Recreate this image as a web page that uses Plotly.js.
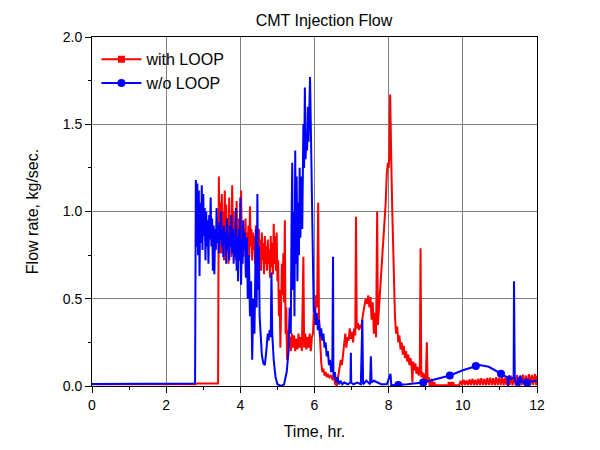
<!DOCTYPE html>
<html>
<head>
<meta charset="utf-8">
<script src="https://cdn.plot.ly/plotly-3.0.1.min.js"></script>
<style>html,body{margin:0;padding:0;background:#fff;}#chart{width:600px;height:450px;}</style>
</head>
<body>
<div id="chart"></div>
<script>
// ---- with LOOP (red) ----
const redT = [0, 2.80, 2.82, 3.40, 3.41, 3.42, 3.44, 3.46, 3.48, 3.50, 3.52, 3.54, 3.56, 3.58, 3.60, 3.62, 3.64, 3.66, 3.68, 3.70,
  3.72, 3.74, 3.76, 3.78, 3.80, 3.82, 3.84, 3.86, 3.88, 3.90, 3.92, 3.94, 3.96, 3.98, 4.00, 4.02, 4.04, 4.06, 4.08, 4.10,
  4.12, 4.14, 4.16, 4.18, 4.20, 4.22, 4.24, 4.26, 4.28, 4.30, 4.32, 4.34, 4.36, 4.38, 4.40, 4.42, 4.44, 4.46, 4.48, 4.50,
  4.52, 4.54, 4.56, 4.58, 4.60, 4.62, 4.64, 4.66, 4.68, 4.70, 4.72, 4.74, 4.76, 4.78, 4.80, 4.82, 4.84, 4.86, 4.88, 4.90,
  4.92, 4.94, 4.96, 4.98, 5.00, 5.02, 5.04, 5.06, 5.08, 5.10, 5.12, 5.14, 5.16, 5.18, 5.20, 5.22, 5.24, 5.26, 5.28, 5.30,
  5.33, 5.36, 5.39, 5.42, 5.45, 5.48, 5.51, 5.54, 5.57, 5.60, 5.63, 5.66, 5.70, 5.72, 5.75, 5.78, 5.81, 5.84, 5.87, 5.90,
  5.93, 5.96, 5.98, 6.01, 6.04, 6.07, 6.10, 6.12, 6.15, 6.18, 6.21, 6.24, 6.27, 6.30, 6.33, 6.36, 6.40, 6.44, 6.48, 6.52,
  6.56, 6.60, 6.62, 6.65, 6.68, 6.71, 6.74, 6.77, 6.80, 6.83, 6.86, 6.89, 6.92, 6.95, 6.98, 7.01, 7.04, 7.07, 7.10, 7.12,
  7.14, 7.17, 7.20, 7.23, 7.26, 7.30, 7.34, 7.38, 7.42, 7.45, 7.48, 7.51, 7.54, 7.57, 7.60, 7.63, 7.66, 7.69, 7.71, 7.74,
  7.77, 7.80, 7.84, 7.88, 7.92, 7.95, 7.98, 8.00, 8.02, 8.04, 8.06, 8.08, 8.10, 8.12, 8.14, 8.17, 8.20, 8.23, 8.26, 8.29,
  8.32, 8.35, 8.38, 8.41, 8.44, 8.47, 8.50, 8.53, 8.56, 8.59, 8.62, 8.64, 8.66, 8.69, 8.72, 8.75, 8.78, 8.81, 8.84, 8.86,
  8.88, 8.91, 8.94, 8.97, 9.00, 9.03, 9.05, 9.08, 9.11, 9.15, 9.20, 9.90,
  9.94, 9.98, 10.02, 10.06, 10.10, 10.14, 10.18, 10.22, 10.26, 10.30, 10.34, 10.38, 10.42, 10.46, 10.50, 10.54, 10.58,
  10.62, 10.66, 10.70, 10.74, 10.78, 10.82, 10.86, 10.90, 10.94, 10.98, 11.02, 11.06, 11.10, 11.14, 11.18, 11.22, 11.26,
  11.30, 11.34, 11.38, 11.42, 11.46, 11.50, 11.54, 11.58, 11.62, 11.66, 11.70, 11.74, 11.78, 11.82, 11.86, 11.90, 11.94,
  11.98, 12.00];
const redV = [0.010, 0.010, 0.015, 0.015, 0.60, 1.20, 0.82, 1.05, 0.76, 1.10, 0.84, 1.00, 0.72, 1.12, 0.86, 1.04, 0.78, 0.96, 0.70, 1.08,
  0.82, 0.98, 0.74, 1.15, 0.84, 1.00, 0.78, 0.94, 0.72, 1.06, 0.84, 0.96, 0.76, 0.92, 0.80, 1.12, 0.82, 0.94, 0.74, 0.90,
  0.80, 0.96, 0.76, 0.88, 0.78, 0.92, 0.74, 1.03, 0.80, 0.90, 0.72, 0.88, 0.78, 0.86, 0.70, 0.92, 0.76, 0.86, 0.68, 0.90,
  0.74, 0.84, 0.66, 0.88, 0.72, 0.82, 0.64, 0.86, 0.70, 0.80, 0.66, 0.84, 0.70, 0.78, 0.62, 0.86, 0.68, 0.82, 0.64, 0.93,
  0.70, 0.86, 0.66, 0.88, 0.60, 0.72, 0.40, 0.55, 0.22, 0.45, 0.70, 0.52, 0.76, 0.48, 0.95, 0.30, 0.45, 0.15, 0.32, 0.22,
  0.28, 0.20, 0.30, 0.22, 0.29, 0.20, 0.27, 0.21, 0.30, 0.22, 0.28, 0.20, 0.74, 0.22, 0.30, 0.21, 0.28, 0.22, 0.30, 0.20,
  0.28, 0.30, 0.42, 0.35, 0.52, 0.45, 1.05, 0.40, 0.22, 0.14, 0.08, 0.10, 0.06, 0.08, 0.05, 0.07, 0.05, 0.06, 0.04, 0.05,
  0.01, 0.005, 0.03, 0.08, 0.13, 0.15, 0.12, 0.20, 0.24, 0.30, 0.22, 0.28, 0.26, 0.33, 0.27, 0.31, 0.25, 0.33, 0.29, 0.97,
  0.33, 0.36, 0.32, 0.35, 0.33, 0.40, 0.45, 0.50, 0.47, 0.52, 0.45, 0.51, 0.38, 0.48, 0.30, 0.42, 0.28, 1.00, 0.35, 0.45,
  0.55, 0.68, 0.80, 0.95, 1.05, 1.22, 1.28, 1.25, 1.32, 1.67, 1.28, 1.18, 0.98, 0.75, 0.52, 0.40, 0.30, 0.34, 0.25, 0.29,
  0.21, 0.25, 0.18, 0.23, 0.16, 0.20, 0.14, 0.18, 0.12, 0.16, 0.11, 0.02, 0.14, 0.09, 0.13, 0.07, 0.11, 0.06, 0.09, 0.79,
  0.05, 0.08, 0.04, 0.07, 0.03, 0.25, 0.02, 0.05, 0.01, 0.04, 0.004, 0.004,
  0.030, 0.004, 0.035, 0.006, 0.032, 0.004, 0.038, 0.006, 0.040, 0.005, 0.036, 0.004, 0.042, 0.006, 0.045, 0.005, 0.040,
  0.004, 0.046, 0.006, 0.048, 0.005, 0.044, 0.004, 0.050, 0.006, 0.047, 0.005, 0.052, 0.004, 0.048, 0.006, 0.055, 0.005,
  0.060, 0.004, 0.056, 0.006, 0.062, 0.005, 0.058, 0.004, 0.065, 0.006, 0.060, 0.005, 0.068, 0.004, 0.064, 0.006, 0.070,
  0.005, 0.060];
const redMarkT = [9.17, 9.68];
const redMarkV = [0.004, 0.004];

// ---- w/o LOOP (blue) ----
const blueT = [0, 2.75, 2.78, 2.79, 2.80, 2.82, 2.84, 2.86, 2.88, 2.90, 2.92, 2.94, 2.96, 2.98, 3.00, 3.02, 3.04, 3.06, 3.08, 3.10,
  3.12, 3.14, 3.16, 3.18, 3.20, 3.22, 3.24, 3.26, 3.28, 3.30, 3.32, 3.34, 3.36, 3.38, 3.40, 3.42, 3.44, 3.46, 3.48, 3.50,
  3.52, 3.54, 3.56, 3.58, 3.60, 3.62, 3.64, 3.66, 3.68, 3.70, 3.72, 3.74, 3.76, 3.78, 3.80, 3.82, 3.84, 3.86, 3.88, 3.90,
  3.92, 3.94, 3.96, 3.98, 4.00, 4.02, 4.04, 4.06, 4.08, 4.10, 4.12, 4.15, 4.18, 4.20, 4.23, 4.26, 4.29, 4.32, 4.35, 4.38,
  4.42, 4.44, 4.46, 4.48, 4.50, 4.52, 4.55, 4.58, 4.62, 4.66, 4.70, 4.74, 4.76, 4.79, 4.82, 4.84, 4.86, 4.90, 4.95, 5.00,
  5.10, 5.18, 5.25, 5.30, 5.33, 5.36, 5.38, 5.40, 5.42, 5.44, 5.46, 5.48, 5.50, 5.52, 5.54, 5.56, 5.58, 5.60, 5.62, 5.65,
  5.67, 5.70, 5.72, 5.74, 5.76, 5.78, 5.80, 5.82, 5.84, 5.86, 5.88, 5.90, 5.92, 5.94, 5.96, 5.98, 6.00, 6.03, 6.06, 6.09,
  6.12, 6.15, 6.18, 6.21, 6.24, 6.27, 6.30, 6.33, 6.36, 6.39, 6.42, 6.45, 6.48, 6.50, 6.51, 6.55, 6.58, 6.62, 6.66, 6.70,
  6.75, 6.80, 6.90, 6.97, 6.98, 6.99, 7.05, 7.15, 7.25, 7.29, 7.31, 7.40, 7.50, 7.52, 7.54, 7.60, 7.70, 7.80, 7.95, 8.05,
  8.07, 8.26, 8.50, 8.93, 9.30, 9.65, 10.00, 10.35, 10.45, 10.70, 11.03, 11.20, 11.22, 11.24, 11.30, 11.37, 11.38, 11.40,
  11.45, 11.50, 11.52, 11.55, 11.60, 11.73, 12.00];
const blueV = [0.012, 0.015, 0.02, 0.55, 1.18, 0.80, 1.16, 0.75, 1.12, 0.63, 1.05, 0.82, 1.15, 0.78, 1.10, 0.86, 1.02, 0.72, 1.00, 0.80,
  0.95, 0.70, 0.98, 0.84, 1.08, 0.80, 0.96, 0.66, 0.92, 0.64, 0.90, 0.78, 1.02, 0.82, 0.92, 0.76, 0.94, 0.84, 1.00, 0.80,
  0.90, 0.74, 0.92, 0.82, 0.88, 0.70, 0.96, 0.78, 0.86, 0.72, 0.92, 0.80, 0.98, 0.76, 0.90, 0.70, 0.88, 0.74, 1.02, 0.66,
  0.86, 0.60, 0.90, 0.72, 1.08, 0.58, 0.85, 0.70, 0.95, 0.78, 0.88, 0.62, 0.85, 0.50, 0.75, 0.40, 0.60, 0.15, 0.50, 0.30,
  0.90, 0.45, 1.10, 0.55, 0.80, 0.40, 0.30, 0.18, 0.13, 0.12, 0.20, 0.30, 0.26, 0.32, 0.28, 0.65, 0.30, 0.15, 0.05, 0.01,
  0.0, 0.01, 0.08, 0.20, 0.45, 0.30, 0.90, 1.28, 0.55, 1.00, 0.40, 1.35, 0.70, 1.20, 0.60, 1.05, 0.75, 1.25, 0.85, 1.20,
  0.90, 1.50, 1.25, 1.71, 1.30, 1.45, 1.35, 1.60, 1.40, 1.72, 1.77, 1.50, 1.20, 0.90, 0.60, 0.42, 0.45, 0.35, 0.42, 0.32,
  0.38, 0.28, 0.33, 0.26, 0.30, 0.22, 0.25, 0.17, 0.20, 0.12, 0.15, 0.08, 0.10, 0.74, 0.05, 0.08, 0.02, 0.05, 0.01, 0.03,
  0.01, 0.02, 0.01, 0.02, 0.19, 0.02, 0.01, 0.02, 0.01, 0.38, 0.01, 0.03, 0.01, 0.17, 0.02, 0.03, 0.02, 0.01, 0.01, 0.07,
  0.005, 0.006, 0.01, 0.02, 0.04, 0.06, 0.09, 0.115, 0.12, 0.11, 0.07, 0.05, 0.0, 0.06, 0.04, 0.05, 0.60, 0.04,
  0.0, 0.05, 0.0, 0.06, 0.02, 0.02, 0.03];
const blueMarkT = [8.26, 8.93, 9.65, 10.35, 11.03, 11.73];
const blueMarkV = [0.006, 0.02, 0.06, 0.115, 0.07, 0.02];

const names = ['with LOOP', 'w/o LOOP'];
const colors = ['#ff0000', '#0000ff'];
const symbols = ['square', 'circle'];

const traces = [
  {x: [null], y: [null], name: names[0], mode: 'lines+markers', line: {color: colors[0], width: 2}, marker: {symbol: symbols[0], size: 7, color: colors[0]}},
  {x: [null], y: [null], name: names[1], mode: 'lines+markers', line: {color: colors[1], width: 2}, marker: {symbol: symbols[1], size: 8, color: colors[1]}},
  {x: redT, y: redV, mode: 'lines', line: {color: colors[0], width: 2}, showlegend: false, hoverinfo: 'skip'},
  {x: redMarkT, y: redMarkV, mode: 'markers', marker: {symbol: symbols[0], size: 7, color: colors[0]}, showlegend: false, hoverinfo: 'skip'},
  {x: blueT, y: blueV, mode: 'lines', line: {color: colors[1], width: 2}, showlegend: false, hoverinfo: 'skip'},
  {x: blueMarkT, y: blueMarkV, mode: 'markers', marker: {symbol: symbols[1], size: 8, color: colors[1]}, showlegend: false, hoverinfo: 'skip'}
];

const font = 'Arial, "Liberation Sans", sans-serif';
const layout = {
  width: 600, height: 450,
  margin: {l: 92, r: 63, t: 37, b: 64},
  paper_bgcolor: '#ffffff', plot_bgcolor: '#ffffff',
  font: {family: font, color: '#000000', size: 14},
  title: {text: 'CMT Injection Flow', font: {family: font, size: 16, color: '#000'}, xref: 'container', x: 0.54, xanchor: 'center', yref: 'container', y: 0.955, yanchor: 'middle'},
  showlegend: true,
  legend: {x: 0.01, y: 0.985, xanchor: 'left', yanchor: 'top', bgcolor: 'rgba(0,0,0,0)', borderwidth: 0, font: {family: font, size: 16, color: '#000'}, itemwidth: 40, tracegroupgap: 0},
  xaxis: {
    range: [0, 12], dtick: 2, tick0: 0, ticks: 'outside', ticklen: 6, tickwidth: 1, tickcolor: '#000',
    showline: true, linecolor: '#000', linewidth: 1, mirror: true,
    showgrid: true, gridcolor: '#808080', gridwidth: 1, zeroline: false,
    minor: {dtick: 1, ticks: 'outside', ticklen: 3, tickcolor: '#000', showgrid: false},
    tickfont: {family: font, size: 14, color: '#000'},
    title: {text: 'Time, hr.', font: {family: font, size: 16, color: '#000'}, standoff: 14},
    automargin: false, fixedrange: true
  },
  yaxis: {
    range: [0, 2], dtick: 0.5, tick0: 0, tickformat: '.1f', ticks: 'outside', ticklen: 6, tickwidth: 1, tickcolor: '#000',
    showline: true, linecolor: '#000', linewidth: 1, mirror: true,
    showgrid: true, gridcolor: '#808080', gridwidth: 1, zeroline: false,
    minor: {dtick: 0.25, ticks: 'outside', ticklen: 3, tickcolor: '#000', showgrid: false},
    tickfont: {family: font, size: 14, color: '#000'},
    title: {text: 'Flow rate, kg/sec.', font: {family: font, size: 16, color: '#000'}, standoff: 20},
    automargin: false, fixedrange: true
  }
};

Plotly.newPlot('chart', traces, layout, {displayModeBar: false, staticPlot: true});
</script>
</body>
</html>
